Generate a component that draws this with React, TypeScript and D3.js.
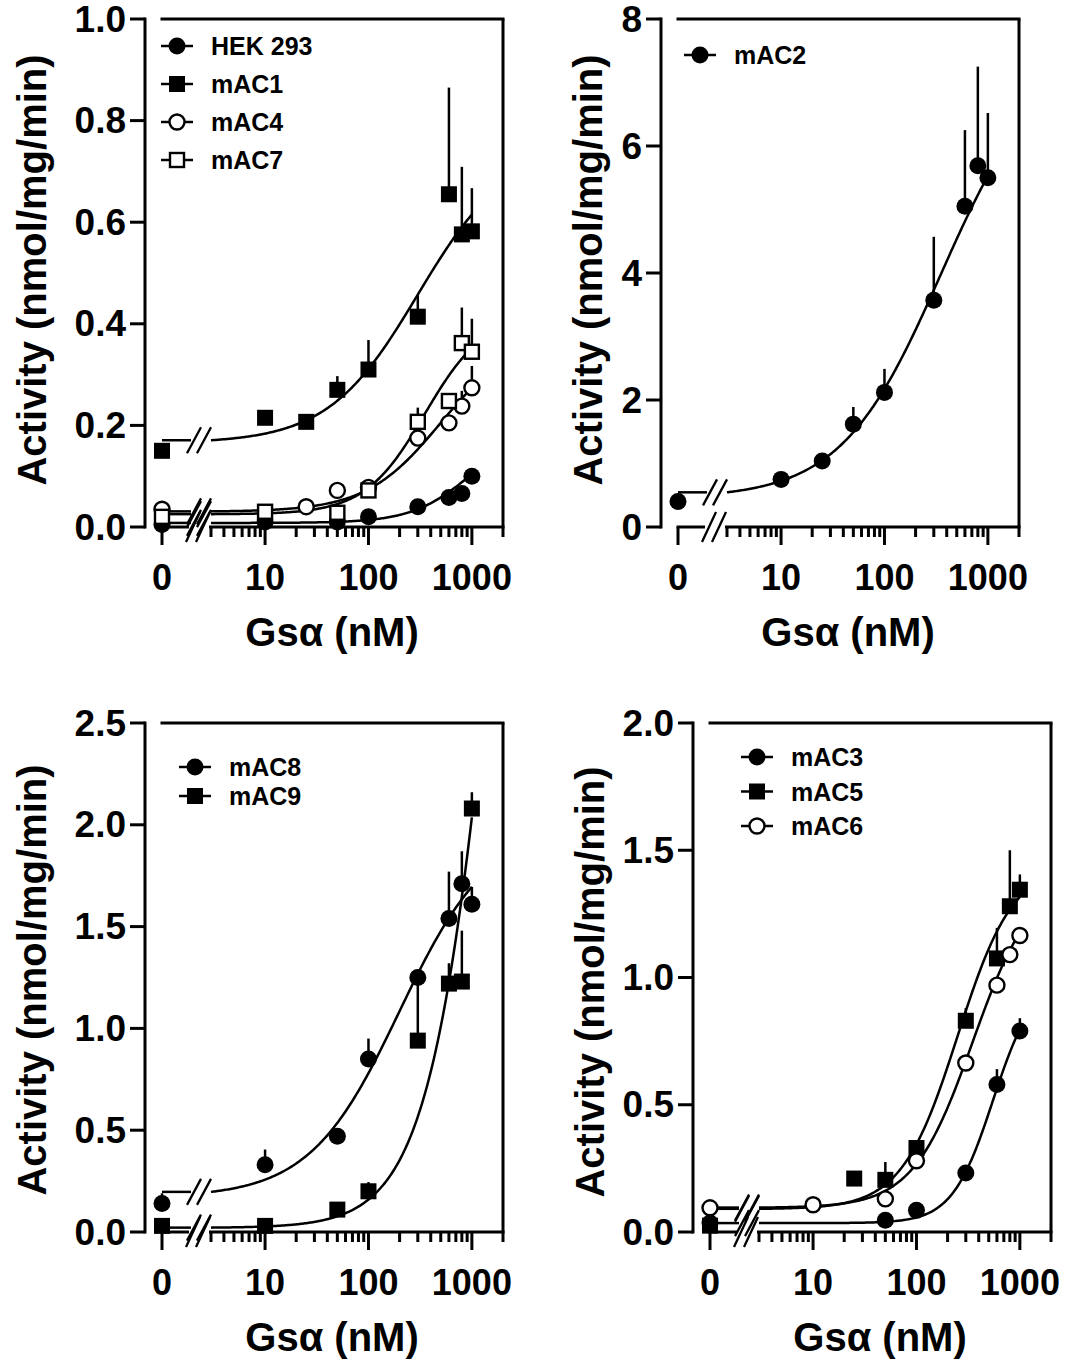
import React from 'react';
import * as d3 from 'd3';

const FONT = "'Liberation Sans', Arial, Helvetica, sans-serif";

// ---------- data ----------
const DOSES_FULL = [0, 10, 25, 50, 100, 300, 600, 800, 1000];
const DOSES_89 = [0, 10, 50, 100, 300, 600, 800, 1000];
const DOSES_AC3 = [0, 50, 100, 300, 600, 1000];
const DOSES_AC5 = [0, 25, 50, 100, 300, 600, 800, 1000];
const DOSES_AC6 = [0, 10, 50, 100, 300, 600, 800, 1000];

const HEK_Y = [0.005, 0.01, null, 0.01, 0.02, 0.04, 0.058, 0.066, 0.1];
const HEK_E = [0, 0, 0, 0, 0, 0, 0, 0, 0];
const AC1_Y = [0.15, 0.215, 0.207, 0.27, 0.31, 0.414, 0.655, 0.576, 0.582];
const AC1_E = [0, 0, 0, 0.027, 0.058, 0.043, 0.21, 0.133, 0.085];
const AC4_Y = [0.035, null, 0.04, 0.072, 0.078, 0.175, 0.205, 0.238, 0.274];
const AC4_E = [0, 0, 0, 0, 0, 0, 0, 0.03, 0.043];
const AC7_Y = [0.02, 0.03, null, 0.028, 0.072, 0.207, 0.248, 0.362, 0.345];
const AC7_E = [0, 0, 0, 0, 0, 0.028, 0, 0.07, 0.065];

const AC2_Y = [0.4, 0.75, 1.04, 1.62, 2.12, 3.57, 5.05, 5.69, 5.5];
const AC2_E = [0, 0, 0, 0.27, 0.37, 1.0, 1.2, 1.56, 1.02];

const AC8_Y = [0.14, 0.33, 0.47, 0.85, 1.25, 1.54, 1.71, 1.61];
const AC8_E = [0.05, 0.075, 0, 0.1, 0, 0.23, 0.16, 0.085];
const AC9_Y = [0.03, 0.03, 0.11, 0.2, 0.94, 1.22, 1.23, 2.08];
const AC9_E = [0, 0, 0, 0.045, 0.34, 0.1, 0.25, 0.08];

const AC3_Y = [0.035, 0.046, 0.085, 0.232, 0.58, 0.79];
const AC3_E = [0, 0, 0, 0, 0.06, 0.05];
const AC5_Y = [0.025, 0.21, 0.205, 0.33, 0.83, 1.075, 1.28, 1.345];
const AC5_E = [0, 0, 0.07, 0, 0.05, 0.12, 0.22, 0.06];
const AC6_Y = [0.095, 0.107, 0.13, 0.28, 0.664, 0.97, 1.09, 1.165];
const AC6_E = [0, 0, 0, 0, 0, 0, 0, 0];

// fitted curve parameters: [bottom, top, EC50, hill slope]
const HEK_FIT = [0.008, 0.2, 1000, 1.5];
const AC1_FIT = [0.165, 0.75, 300, 1];
const AC4_FIT = [0.03, 0.38, 500, 1.2];
const AC7_FIT = [0.025, 0.42, 350, 1.5];
const AC2_FIT = [0.45, 7.5, 350, 0.9];
const AC8_FIT = [0.17, 2.0, 200, 1];
const AC9_FIT = [0.02, 7, 2000, 1.3];
const AC3_FIT = [0.035, 1.0, 550, 2.2];
const AC5_FIT = [0.09, 1.45, 250, 1.6];
const AC6_FIT = [0.095, 1.4, 350, 1.5];

const Y_TICKS_1 = [0, 0.2, 0.4, 0.6, 0.8, 1.0];
const Y_TICKS_2 = [0, 2, 4, 6, 8];
const Y_TICKS_3 = [0, 0.5, 1.0, 1.5, 2.0, 2.5];
const Y_TICKS_4 = [0, 0.5, 1.0, 1.5, 2.0];
const X_TICK_LABELS = ['0', '10', '100', '1000'];
const X_TICK_VALUES = [0, 10, 100, 1000];

const Y_TITLE = 'Activity (nmol/mg/min)';
const X_TITLE = 'Gsα (nM)';

type Marker = 'circle' | 'square' | 'ocircle' | 'osquare';
interface Series {
  name: string;
  doses: number[];
  values: (number | null)[];
  errs: number[];
  marker: Marker;
  fit: number[];
}

const hill = (p: number[], x: number) => p[0] + (p[1] - p[0]) / (1 + Math.pow(p[2] / x, p[3]));

function MarkerShape({ kind, cx, cy }: { kind: Marker; cx: number; cy: number }) {
  const r = 8.5;
  const s = 16;
  if (kind === 'circle') return <circle cx={cx} cy={cy} r={r} fill="#000" />;
  if (kind === 'ocircle')
    return <circle cx={cx} cy={cy} r={r - 1} fill="#fff" stroke="#000" strokeWidth={2.4} />;
  if (kind === 'square') return <rect x={cx - s / 2} y={cy - s / 2} width={s} height={s} fill="#000" />;
  return (
    <rect x={cx - s / 2 + 1} y={cy - s / 2 + 1} width={s - 2} height={s - 2} fill="#fff" stroke="#000" strokeWidth={2.4} />
  );
}

interface PanelCfg {
  x0: number;
  axisX: number;
  yTop: number;
  yBot: number;
  yMax: number;
  yTicks: number[];
  yFmt: (v: number) => string;
  series: Series[];
  legendX: number;
  legendY: number;
  legendStep: number;
  yTitleX: number;
  yTitleY: number;
}

function Panel({ cfg }: { cfg: PanelCfg }) {
  const { x0, axisX, yTop, yBot, yMax, yTicks, yFmt, series } = cfg;
  const y = d3.scaleLinear().domain([0, yMax]).range([yBot, yTop]);
  const xl = d3.scaleLog().domain([3, 2000]).range([x0 + 49, x0 + 341]);
  const xp = (d: number) => (d === 0 ? x0 : xl(d));
  const right = xl(2000);
  const minor = xl.ticks().filter((t) => ![10, 100, 1000].includes(t));
  const line = d3
    .line<[number, number]>()
    .x((d) => d[0])
    .y((d) => d[1]);
  const axisW = 3;

  const slash = (cx: number, cy: number, key: string, h = 14) => (
    <g key={key}>
      <line x1={cx - 5 - 7} y1={cy + h} x2={cx - 5 + 7} y2={cy - h} stroke="#000" strokeWidth={2.3} />
      <line x1={cx + 5 - 7} y1={cy + h} x2={cx + 5 + 7} y2={cy - h} stroke="#000" strokeWidth={2.3} />
    </g>
  );

  return (
    <g>
      {/* frame top and right */}
      <line x1={x0 - 1.5} y1={yTop} x2={right + 1.5} y2={yTop} stroke="#000" strokeWidth={axisW} />
      <line x1={right} y1={yTop} x2={right} y2={yBot} stroke="#000" strokeWidth={axisW} />
      {/* y axis */}
      <line x1={axisX} y1={yTop - 1.5} x2={axisX} y2={yBot + 1.5} stroke="#000" strokeWidth={axisW} />
      {yTicks.map((t) => (
        <g key={'yt' + t}>
          <line x1={axisX - 15} y1={y(t)} x2={axisX} y2={y(t)} stroke="#000" strokeWidth={axisW} />
          <text
            x={axisX - 19}
            y={y(t)}
            textAnchor="end"
            dominantBaseline="central"
            fontFamily={FONT}
            fontWeight="bold"
            fontSize={37}
          >
            {yFmt(t)}
          </text>
        </g>
      ))}
      {/* x axis: zero segment + log segment */}
      <line x1={x0 - 1.5} y1={yBot} x2={x0 + 27} y2={yBot} stroke="#000" strokeWidth={axisW} />
      <line x1={xl(3) - 2} y1={yBot} x2={right + 1.5} y2={yBot} stroke="#000" strokeWidth={axisW} />
      {slash(x0 + 36, yBot, 'axbr', 15)}
      {minor.map((t) => (
        <line key={'mn' + t} x1={xl(t)} y1={yBot} x2={xl(t)} y2={yBot + 10} stroke="#000" strokeWidth={axisW} />
      ))}
      {X_TICK_VALUES.map((t, i) => (
        <g key={'xt' + t}>
          <line x1={xp(t)} y1={yBot} x2={xp(t)} y2={yBot + 18} stroke="#000" strokeWidth={axisW} />
          <text
            x={xp(t)}
            y={yBot + 50}
            textAnchor="middle"
            dominantBaseline="central"
            fontFamily={FONT}
            fontWeight="bold"
            fontSize={36}
          >
            {X_TICK_LABELS[i]}
          </text>
        </g>
      ))}
      {/* titles */}
      <text
        x={x0 + 170}
        y={yBot + 105}
        textAnchor="middle"
        dominantBaseline="central"
        fontFamily={FONT}
        fontWeight="bold"
        fontSize={40}
      >
        {X_TITLE}
      </text>
      <text
        transform={`translate(${cfg.yTitleX},${cfg.yTitleY}) rotate(-90)`}
        textAnchor="middle"
        dominantBaseline="central"
        fontFamily={FONT}
        fontWeight="bold"
        fontSize={40}
      >
        {Y_TITLE}
      </text>
      {/* curves */}
      {series.map((s) => {
        const maxD = d3.max(s.doses) as number;
        const pts: [number, number][] = d3
          .range(0, 201)
          .map((i) => 3 * Math.pow(maxD / 3, i / 200))
          .map((d) => [xl(d), y(hill(s.fit, d))]);
        const y3 = y(hill(s.fit, 3));
        return (
          <g key={'c' + s.name}>
            <line x1={x0} y1={y3} x2={x0 + 29} y2={y3} stroke="#000" strokeWidth={2.5} />
            {slash(x0 + 37, y3, 'br' + s.name, 13)}
            <path d={line(pts) as string} fill="none" stroke="#000" strokeWidth={2.5} />
          </g>
        );
      })}
      {/* error bars */}
      {series.map((s) =>
        s.doses.map((d, i) =>
          s.values[i] != null && s.errs[i] > 0 ? (
            <line
              key={'e' + s.name + d}
              x1={xp(d)}
              x2={xp(d)}
              y1={y(s.values[i] as number)}
              y2={y((s.values[i] as number) + s.errs[i])}
              stroke="#000"
              strokeWidth={2.5}
            />
          ) : null
        )
      )}
      {/* markers */}
      {series.map((s) =>
        s.doses.map((d, i) =>
          s.values[i] != null ? (
            <MarkerShape key={'m' + s.name + d} kind={s.marker} cx={xp(d)} cy={y(s.values[i] as number)} />
          ) : null
        )
      )}
      {/* legend */}
      {series.map((s, i) => {
        const ly = cfg.legendY + i * cfg.legendStep;
        return (
          <g key={'lg' + s.name}>
            <line x1={cfg.legendX - 16} y1={ly} x2={cfg.legendX + 16} y2={ly} stroke="#000" strokeWidth={2.5} />
            <MarkerShape kind={s.marker} cx={cfg.legendX} cy={ly} />
            <text
              x={cfg.legendX + 34}
              y={ly}
              dominantBaseline="central"
              fontFamily={FONT}
              fontWeight="bold"
              fontSize={25}
            >
              {s.name}
            </text>
          </g>
        );
      })}
    </g>
  );
}

const fmt1 = d3.format('.1f');
const fmt0 = d3.format('d');

const PANELS: PanelCfg[] = [
  {
    x0: 162,
    axisX: 145,
    yTop: 19,
    yBot: 527,
    yMax: 1.0,
    yTicks: Y_TICKS_1,
    yFmt: fmt1,
    legendX: 177,
    legendY: 46,
    legendStep: 38,
    yTitleX: 32,
    yTitleY: 270,
    series: [
      { name: 'HEK 293', doses: DOSES_FULL, values: HEK_Y, errs: HEK_E, marker: 'circle', fit: HEK_FIT },
      { name: 'mAC1', doses: DOSES_FULL, values: AC1_Y, errs: AC1_E, marker: 'square', fit: AC1_FIT },
      { name: 'mAC4', doses: DOSES_FULL, values: AC4_Y, errs: AC4_E, marker: 'ocircle', fit: AC4_FIT },
      { name: 'mAC7', doses: DOSES_FULL, values: AC7_Y, errs: AC7_E, marker: 'osquare', fit: AC7_FIT },
    ],
  },
  {
    x0: 678,
    axisX: 661,
    yTop: 19,
    yBot: 527,
    yMax: 8,
    yTicks: Y_TICKS_2,
    yFmt: fmt0,
    legendX: 700,
    legendY: 55,
    legendStep: 38,
    yTitleX: 588,
    yTitleY: 270,
    series: [{ name: 'mAC2', doses: DOSES_FULL, values: AC2_Y, errs: AC2_E, marker: 'circle', fit: AC2_FIT }],
  },
  {
    x0: 162,
    axisX: 145,
    yTop: 723,
    yBot: 1232,
    yMax: 2.5,
    yTicks: Y_TICKS_3,
    yFmt: fmt1,
    legendX: 195,
    legendY: 767,
    legendStep: 29,
    yTitleX: 32,
    yTitleY: 980,
    series: [
      { name: 'mAC8', doses: DOSES_89, values: AC8_Y, errs: AC8_E, marker: 'circle', fit: AC8_FIT },
      { name: 'mAC9', doses: DOSES_89, values: AC9_Y, errs: AC9_E, marker: 'square', fit: AC9_FIT },
    ],
  },
  {
    x0: 710,
    axisX: 693,
    yTop: 723,
    yBot: 1232,
    yMax: 2.0,
    yTicks: Y_TICKS_4,
    yFmt: fmt1,
    legendX: 757,
    legendY: 757,
    legendStep: 34.5,
    yTitleX: 590,
    yTitleY: 982,
    series: [
      { name: 'mAC3', doses: DOSES_AC3, values: AC3_Y, errs: AC3_E, marker: 'circle', fit: AC3_FIT },
      { name: 'mAC5', doses: DOSES_AC5, values: AC5_Y, errs: AC5_E, marker: 'square', fit: AC5_FIT },
      { name: 'mAC6', doses: DOSES_AC6, values: AC6_Y, errs: AC6_E, marker: 'ocircle', fit: AC6_FIT },
    ],
  },
];

export default function App() {
  return (
    <svg
      width={1066}
      height={1360}
      viewBox="0 0 1066 1360"
      style={{ position: 'absolute', left: 0, top: 0, background: '#fff' }}
    >
      <rect x={0} y={0} width={1066} height={1360} fill="#fff" />
      {PANELS.map((p, i) => (
        <Panel key={i} cfg={p} />
      ))}
    </svg>
  );
}
